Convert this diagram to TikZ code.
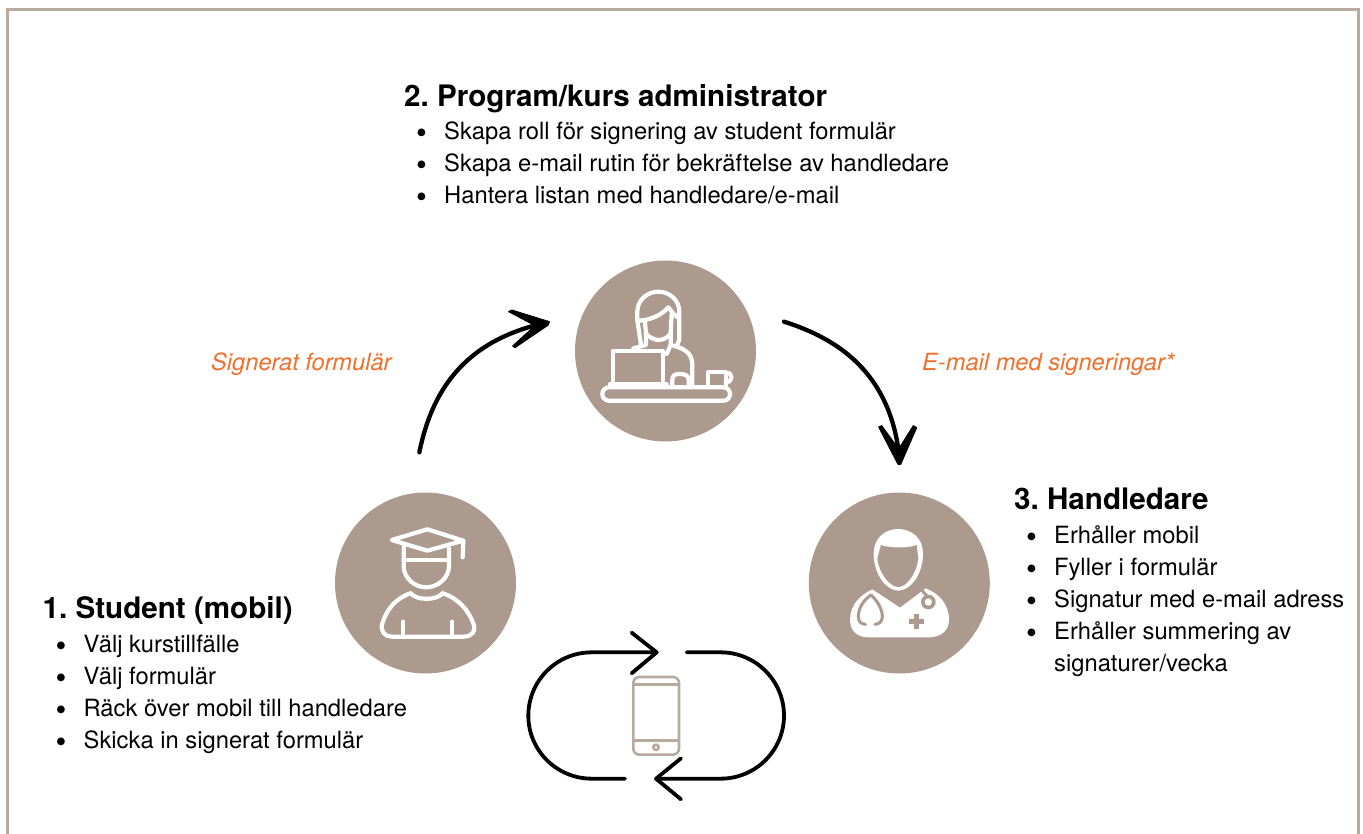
\documentclass[tikz,border=0pt]{standalone}
\usepackage{fontspec}
\setmainfont{TeX Gyre Heros}
\frenchspacing
\definecolor{taupe}{HTML}{AB9A8D}
\definecolor{framec}{HTML}{B8AB9E}
\definecolor{orangec}{HTML}{F26F2C}
\newcommand{\itm}[1]{\makebox[26.5pt][l]{\hspace{-1.5pt}\raisebox{-4pt}[0pt][0pt]{\scalebox{1.3}{\textbullet}}}#1}
\newcommand{\itmc}[1]{\hspace*{26.5pt}#1}
\tikzset{
  disc/.style={circle,fill=taupe,draw=none,minimum size=181pt,inner sep=0pt},
  titletext/.style={anchor=base west,inner sep=0pt,font=\fontsize{29.6}{32}\selectfont\bfseries},
  listtext/.style={anchor=north west,inner sep=0pt,align=left,font=\fontsize{23.75}{32}\selectfont},
  flowlabel/.style={anchor=base west,inner sep=0pt,text=orangec,font=\fontsize{23.65}{32}\selectfont\itshape},
  iconline/.style={draw=white,line width=4.2pt,line cap=round,line join=round},
  flow/.style={draw=black,line width=4.3pt,line cap=round,line join=round},
  loopline/.style={draw=black,line width=3.8pt,line cap=round,line join=round},
  phoneline/.style={draw=framec,line width=2.6pt}
}
\begin{document}
\begin{tikzpicture}[x=1pt,y=-1pt]
\useasboundingbox (0,0) rectangle (1363,834);
\fill[white] (0,0) rectangle (1363,834);
\draw[framec,line width=3pt] (7.5,834) -- (7.5,10) -- (1358,10) -- (1358,834);

% discs
\node[disc] (admin) at (665.5,351) {};
\node[disc] (student) at (425.5,583) {};
\node[disc] (tutor) at (899.3,583) {};

% texts
\node[titletext] (t2) at (404,107) {2. Program/kurs administrator};
\node[listtext] (l2) at (417.5,122) {\itm{Skapa roll för signering av student formulär}\\\itm{Skapa e-mail rutin för bekräftelse av handledare}\\\itm{Hantera listan med handledare/e-mail}};
\node[titletext] (t3) at (1014,509) {3. Handledare};
\node[listtext] (l3) at (1027.5,525) {\itm{Erhåller mobil}\\\itm{Fyller i formulär}\\\itm{Signatur med e-mail adress}\\\itm{Erhåller summering av}\\\itmc{signaturer/vecka}};
\node[titletext] (t1) at (42.5,618) {1. Student (mobil)};
\node[listtext] (l1) at (57,635) {\itm{Välj kurstillfälle}\\\itm{Välj formulär}\\\itm{Räck över mobil till handledare}\\\itm{Skicka in signerat formulär}};
\node[flowlabel] (f1) at (211,370.6) {Signerat formulär};
\node[flowlabel] (f2) at (922,370.6) {E-mail med signeringar*};

% curved arrow student -> admin
\begin{scope}[shift={(400,295)},x=1/3*1pt,y=-1/3*1pt]
  \coordinate (a1s) at (58,472);
  \coordinate (a1e) at (430,85);
  \draw[flow] (a1s) .. controls (95,290) and (190,140) .. (a1e);
  \fill[black,draw=black,line width=1pt,line join=round] (326,50) -- (335,45) -- (448,80) -- (445,90) -- (345,158) -- (338,153) -- (405,92) -- cycle;
\end{scope}
% curved arrow admin -> tutor
\begin{scope}[shift={(770,305)},x=1/3*1pt,y=-1/3*1pt]
  \coordinate (a2s) at (42,50);
  \coordinate (a2e) at (388,455);
  \draw[flow] (a2s) .. controls (200,100) and (360,200) .. (a2e);
  \fill[black,draw=black,line width=1pt,line join=round] (326,366) -- (335,362) -- (386,432) -- (430,362) -- (440,368) -- (392,478) -- (384,478) -- cycle;
\end{scope}

% admin icon
\begin{scope}[shift={(560,250)},x=1/3*1pt,y=-1/3*1pt]
  \draw[iconline,rounded corners=6.5pt] (127,412) rectangle (510,452);
  \draw[iconline] (158,392) -- (158,302) -- (308,302) -- (308,392);
  \draw[iconline] (150,402) -- (320,402);
  \draw[iconline] (243,285) -- (232,210) -- (232,185) .. controls (232,150) and (262,125) .. (295,125) .. controls (328,125) and (358,150) .. (358,185) -- (358,270) -- (350,288);
  \draw[iconline] (232,212) .. controls (270,212) and (305,195) .. (325,172) .. controls (335,185) and (345,197) .. (357,205);
  \draw[iconline] (255,218) -- (258,250) .. controls (265,262) and (285,270) .. (295,270) .. controls (310,270) and (325,262) .. (332,250) -- (335,190);
  \draw[iconline] (258,250) -- (258,285) -- (220,295);
  \draw[iconline] (332,250) -- (332,285) -- (320,312);
  \draw[iconline] (332,285) .. controls (375,295) and (397,310) .. (397,345) -- (397,405);
  \draw[iconline] (337,405) -- (337,390) .. controls (337,375) and (345,372) .. (360,372) .. controls (378,372) and (386,378) .. (386,392) -- (386,405);
  \draw[iconline] (444,405) -- (444,367) -- (497,367) -- (497,405);
  \draw[iconline] (497,370) .. controls (520,362) and (520,400) .. (497,396);
\end{scope}

% student icon
\begin{scope}[shift={(320,480)},x=1/3*1pt,y=-1/3*1pt]
  \draw[iconline] (215,180) -- (322,148) -- (430,182) -- (322,212) -- cycle;
  \draw[iconline] (430,182) -- (428,232);
  \draw[iconline] (251,195) -- (251,258) .. controls (251,295) and (285,322) .. (318,322) .. controls (352,322) and (387,295) .. (387,258) -- (387,205);
  \draw[iconline] (251,241) -- (387,241);
  \draw[iconline] (272,340) .. controls (290,362) and (350,362) .. (368,340);
  \draw[iconline] (272,340) .. controls (225,355) and (200,390) .. (187,430) .. controls (180,455) and (195,470) .. (215,470) -- (430,470) .. controls (455,470) and (470,455) .. (460,430) .. controls (445,390) and (415,355) .. (368,340);
  \draw[iconline] (250,425) -- (250,468);
  \draw[iconline] (397,425) -- (397,468);
\end{scope}

% tutor icon
\begin{scope}[shift={(795,480)},x=1/3*1pt,y=-1/3*1pt]
  \fill[white] (236,220) .. controls (236,175) and (270,147) .. (310,147) .. controls (350,147) and (384,175) .. (384,220) .. controls (384,285) and (345,332) .. (310,332) .. controls (275,332) and (236,285) .. (236,220) -- cycle;
  \fill[taupe] (258,195) .. controls (285,205) and (340,205) .. (365,195) -- (370,235) .. controls (365,280) and (335,321) .. (310,321) .. controls (285,321) and (252,280) .. (247,235) -- cycle;
  \fill[white] (232,328) -- (315,383) -- (392,325) .. controls (430,340) and (462,370) .. (462,420) .. controls (462,450) and (440,472) .. (400,472) -- (220,472) .. controls (185,472) and (165,450) .. (165,420) .. controls (165,375) and (195,345) .. (232,328) -- cycle;
  \draw[taupe,line width=3pt,line cap=round] (228,345) .. controls (205,360) and (190,385) .. (190,410) .. controls (190,425) and (198,432) .. (212,433);
  \draw[taupe,line width=3pt,line cap=round] (228,345) .. controls (250,365) and (262,390) .. (262,410) .. controls (262,425) and (252,432) .. (240,433);
  \draw[taupe,line width=3pt] (375,325) -- (398,350);
  \fill[taupe] (400,366) circle[radius=22];
  \fill[white] (400,366) circle[radius=11];
  \fill[taupe] (356,403) rectangle (372,448);
  \fill[taupe] (341,417) rectangle (388,433);
\end{scope}

% phone and loop
\begin{scope}[shift={(510,620)},x=1/3*1pt,y=-1/3*1pt]
  \draw[phoneline,rounded corners=6pt] (370,171) rectangle (507,404);
  \draw[phoneline] (370,193) -- (507,193);
  \draw[phoneline] (370,361) -- (507,361);
  \draw[phoneline] (438,382) circle[radius=8];
  \coordinate (la) at (345,476);
  \coordinate (lb) at (440,97);
  \coordinate (lc) at (530,97);
  \coordinate (ld) at (438,476);
  \draw[loopline] (la) -- (245,476) .. controls (140,476) and (55,391) .. (55,287) .. controls (55,182) and (140,97) .. (245,97) -- (lb);
  \draw[loopline] (365,38) -- (lb) -- (365,160);
  \draw[loopline] (lc) -- (632,97) .. controls (737,97) and (822,182) .. (822,287) .. controls (822,391) and (737,476) .. (632,476) -- (ld);
  \draw[loopline] (513,415) -- (ld) -- (513,538);
\end{scope}
\end{tikzpicture}
\end{document}
